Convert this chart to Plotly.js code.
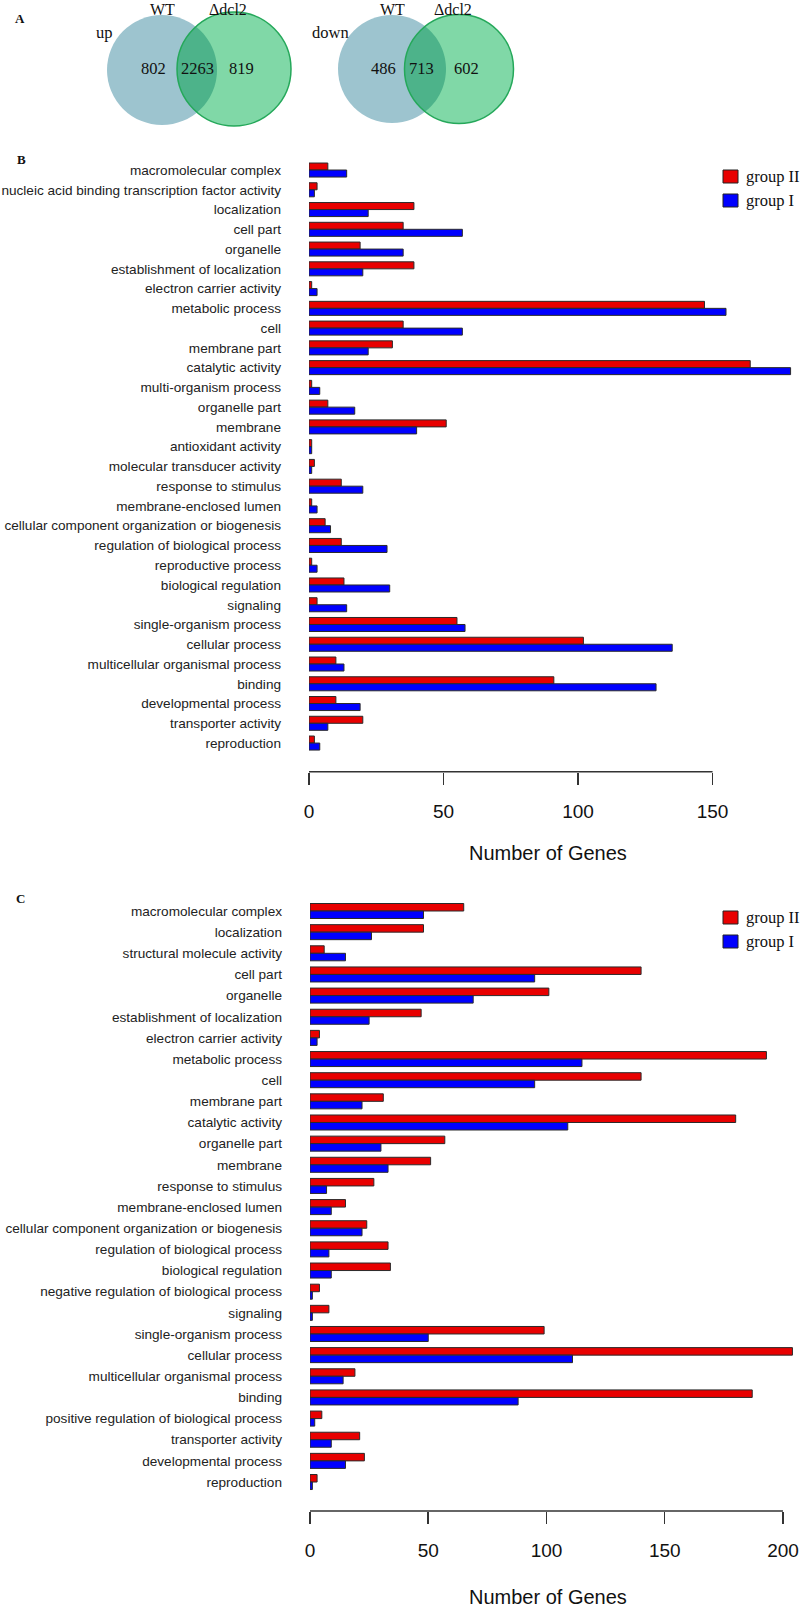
<!DOCTYPE html>
<html><head><meta charset="utf-8">
<script src="https://cdn.plot.ly/plotly-3.0.1.min.js"></script>
<style>html,body{margin:0;padding:0;background:#fff}#chart{width:800px;height:1607px}</style>
</head><body><div id="chart"></div>
<script>
// ---------- data ----------
const catsB = ["macromolecular complex","nucleic acid binding transcription factor activity","localization","cell part","organelle","establishment of localization","electron carrier activity","metabolic process","cell","membrane part","catalytic activity","multi-organism process","organelle part","membrane","antioxidant activity","molecular transducer activity","response to stimulus","membrane-enclosed lumen","cellular component organization or biogenesis","regulation of biological process","reproductive process","biological regulation","signaling","single-organism process","cellular process","multicellular organismal process","binding","developmental process","transporter activity","reproduction"];
const groupII_B = [7,3,39,35,19,39,1,147,35,31,164,1,7,51,1,2,12,1,6,12,1,13,3,55,102,10,91,10,20,2];
const groupI_B  = [14,2,22,57,35,20,3,155,57,22,179,4,17,40,1,1,20,3,8,29,3,30,14,58,135,13,129,19,7,4];

const catsC = ["macromolecular complex","localization","structural molecule activity","cell part","organelle","establishment of localization","electron carrier activity","metabolic process","cell","membrane part","catalytic activity","organelle part","membrane","response to stimulus","membrane-enclosed lumen","cellular component organization or biogenesis","regulation of biological process","biological regulation","negative regulation of biological process","signaling","single-organism process","cellular process","multicellular organismal process","binding","positive regulation of biological process","transporter activity","developmental process","reproduction"];
const groupII_C = [65,48,6,140,101,47,4,193,140,31,180,57,51,27,15,24,33,34,4,8,99,204,19,187,5,21,23,3];
const groupI_C  = [48,26,15,95,69,25,3,115,95,22,109,30,33,7,9,22,8,9,1,1,50,111,14,88,2,9,15,1];

const xTicksB = [0,50,100,150];
const xTicksC = [0,50,100,150,200];
const seriesNames = ["group II","group I"];
const seriesColors = ["#e80000","#0000ff"];
const xTitle = "Number of Genes";

const vennSetNames = ["WT","\u0394dcl2"];
const vennUp = [802,2263,819];
const vennDown = [486,713,602];
const vennTitles = ["up","down"];
const panelLetters = ["A","B","C"];

// ---------- helpers ----------
const W = 800, H = 1607;
const px = x => x / W, py = y => 1 - y / H;
const sans = "Liberation Sans, Arial, Helvetica, sans-serif";
const serif = "Liberation Serif, Times New Roman, serif";

const traces = [
  {type:"bar", orientation:"h", y:catsB, x:groupII_B, name:seriesNames[0], xaxis:"x", yaxis:"y",
   marker:{color:seriesColors[0], line:{color:"#2a2a2a", width:1}}},
  {type:"bar", orientation:"h", y:catsB, x:groupI_B, name:seriesNames[1], xaxis:"x", yaxis:"y",
   marker:{color:seriesColors[1], line:{color:"#2a2a2a", width:1}}},
  {type:"bar", orientation:"h", y:catsC, x:groupII_C, name:seriesNames[0], xaxis:"x2", yaxis:"y2",
   marker:{color:seriesColors[0], line:{color:"#2a2a2a", width:1}}},
  {type:"bar", orientation:"h", y:catsC, x:groupI_C, name:seriesNames[1], xaxis:"x2", yaxis:"y2",
   marker:{color:seriesColors[1], line:{color:"#2a2a2a", width:1}}}
];

const shapes = [];
const annotations = [];

// axis baseline segments (R style: only across tick span)
shapes.push({type:"line", xref:"x", yref:"y domain", x0:xTicksB[0], x1:xTicksB[xTicksB.length-1], y0:0, y1:0, line:{color:"#333", width:1.5}});
shapes.push({type:"line", xref:"x2", yref:"y2 domain", x0:xTicksC[0], x1:xTicksC[xTicksC.length-1], y0:0, y1:0, line:{color:"#333", width:1.5}});

// legends drawn as boxes + text
function addLegend(topY){
  seriesNames.forEach((nm,i)=>{
    const y0 = topY + i*24;
    shapes.push({type:"rect", xref:"paper", yref:"paper", x0:px(723), x1:px(738), y0:py(y0), y1:py(y0+13),
      fillcolor:seriesColors[i], line:{color:"#222", width:1}});
    annotations.push({xref:"paper", yref:"paper", x:px(744), y:py(y0+6.5), xanchor:"left", yanchor:"middle",
      text:nm, showarrow:false, font:{family:serif, size:16.5, color:"#111"}});
  });
}
addLegend(170);
addLegend(911);

// x titles
annotations.push({xref:"paper", yref:"paper", x:px(548), y:py(853), xanchor:"center", yanchor:"middle",
  text:xTitle, showarrow:false, font:{family:sans, size:20, color:"#111"}});
annotations.push({xref:"paper", yref:"paper", x:px(548), y:py(1597), xanchor:"center", yanchor:"middle",
  text:xTitle, showarrow:false, font:{family:sans, size:20, color:"#111"}});

// panel letters
[[20,18],[21,160],[20,899]].forEach((p,i)=>{
  annotations.push({xref:"paper", yref:"paper", x:px(p[0]), y:py(p[1]), xanchor:"center", yanchor:"middle",
    text:"<b>"+panelLetters[i]+"</b>", showarrow:false, font:{family:serif, size:13, color:"#111"}});
});

// Venn diagrams
function circlePts(cx, cy, r, a0, a1, n){
  const pts = [];
  for(let k=0;k<=n;k++){
    const a = a0 + (a1-a0)*k/n;
    pts.push([cx + r*Math.cos(a), cy + r*Math.sin(a)]);
  }
  return pts;
}
function addVenn(c1, r1, c2, r2, counts, title, titleX, labelXs){
  shapes.push({type:"circle", xref:"paper", yref:"paper", x0:px(c1[0]-r1), x1:px(c1[0]+r1), y0:py(c1[1]+r1), y1:py(c1[1]-r1),
    fillcolor:"#9dc4cf", line:{width:0}});
  shapes.push({type:"circle", xref:"paper", yref:"paper", x0:px(c2[0]-r2), x1:px(c2[0]+r2), y0:py(c2[1]+r2), y1:py(c2[1]-r2),
    fillcolor:"#80d8a7", line:{width:0}});
  const d = Math.hypot(c2[0]-c1[0], c2[1]-c1[1]);
  const base = Math.atan2(c2[1]-c1[1], c2[0]-c1[0]);
  const a1 = Math.acos((d*d + r1*r1 - r2*r2)/(2*d*r1));
  const a2 = Math.acos((d*d + r2*r2 - r1*r1)/(2*d*r2));
  const arc1 = circlePts(c1[0], c1[1], r1, base-a1, base+a1, 40);
  const arc2 = circlePts(c2[0], c2[1], r2, base+Math.PI-a2, base+Math.PI+a2, 40);
  const pts = arc1.concat(arc2);
  const path = pts.map((p,k)=>(k===0?"M":"L")+px(p[0]).toFixed(5)+","+py(p[1]).toFixed(5)).join(" ")+" Z";
  shapes.push({type:"path", xref:"paper", yref:"paper", path:path, fillcolor:"#4db38a", line:{width:0}});
  shapes.push({type:"circle", xref:"paper", yref:"paper", x0:px(c2[0]-r2), x1:px(c2[0]+r2), y0:py(c2[1]+r2), y1:py(c2[1]-r2),
    fillcolor:"rgba(0,0,0,0)", line:{color:"#25a85a", width:1.5}});
  counts.forEach((v,i)=>{
    annotations.push({xref:"paper", yref:"paper", x:px(labelXs[i]), y:py(68), xanchor:"center", yanchor:"middle",
      text:String(v), showarrow:false, font:{family:serif, size:16.5, color:"#111"}});
  });
  annotations.push({xref:"paper", yref:"paper", x:px(c1[0]), y:py(10), xanchor:"center", yanchor:"middle",
    text:vennSetNames[0], showarrow:false, font:{family:serif, size:16, color:"#111"}});
  annotations.push({xref:"paper", yref:"paper", x:px(c2[0]-6), y:py(10), xanchor:"center", yanchor:"middle",
    text:vennSetNames[1], showarrow:false, font:{family:serif, size:16, color:"#111"}});
  annotations.push({xref:"paper", yref:"paper", x:px(titleX), y:py(32), xanchor:"center", yanchor:"middle",
    text:title, showarrow:false, font:{family:serif, size:16.5, color:"#111"}});
}
addVenn([162,70],55,[234,69],57, vennUp, vennTitles[0], 104, [153,197,241]);
addVenn([392,69],54,[459,69],54.5, vennDown, vennTitles[1], 330, [383,421,466]);

const commonX = {ticks:"outside", ticklen:12, tickwidth:1.5, tickcolor:"#333", showline:false, showgrid:false,
  zeroline:false, tickfont:{family:sans, size:19, color:"#111"}, ticklabelstandoff:10, fixedrange:true};
const commonY = {type:"category", categoryorder:"array", ticks:"", showline:false, showgrid:false, zeroline:false,
  tickfont:{family:sans, size:13.6, color:"#222"}, ticklabelstandoff:27, fixedrange:true};

const layout = {
  width:W, height:H, margin:{l:0,r:0,t:0,b:0}, paper_bgcolor:"#fff", plot_bgcolor:"#fff",
  showlegend:false, barmode:"group", bargap:0.29, bargroupgap:0,
  xaxis:Object.assign({}, commonX, {domain:[309/800,1], range:[0,182.5], anchor:"y", tickvals:xTicksB}),
  yaxis:Object.assign({}, commonY, {domain:[py(771.7), py(140)], range:[30.45,-1.52], anchor:"x", categoryarray:catsB}),
  xaxis2:Object.assign({}, commonX, {domain:[310/800,1], range:[0,207.2], anchor:"y2", tickvals:xTicksC}),
  yaxis2:Object.assign({}, commonY, {domain:[py(1511), py(880)], range:[28.37,-1.466], anchor:"x2", categoryarray:catsC}),
  shapes:shapes, annotations:annotations
};
Plotly.newPlot("chart", traces, layout, {staticPlot:true, displayModeBar:false});
</script></body></html>
